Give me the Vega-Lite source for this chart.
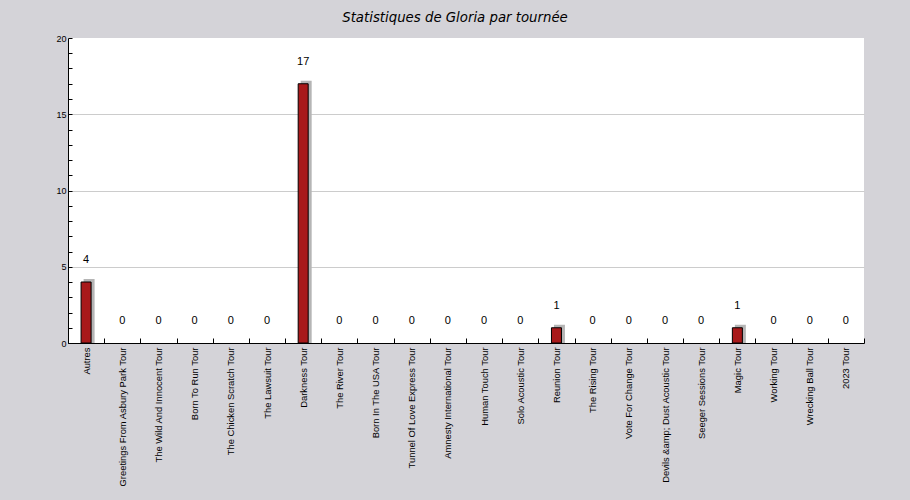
{
  "$schema": "https://vega.github.io/schema/vega-lite/v6.json",
  "autosize": "none",
  "width": 796,
  "height": 305,
  "padding": {"left": 68, "top": 38, "right": 46, "bottom": 157},
  "background": "#d4d3d8",
  "title": {
    "text": "Statistiques de Gloria par tournée",
    "font": "DejaVu Sans",
    "fontSize": 13.3,
    "fontStyle": "italic",
    "fontWeight": "normal",
    "color": "#000000",
    "anchor": "middle",
    "baseline": "bottom",
    "offset": -4,
    "dx": -11
  },
  "config": {
    "view": {"fill": "#ffffff", "stroke": null},
    "axis": {
      "domainColor": "#000000",
      "tickColor": "#000000",
      "labelColor": "#000000",
      "labelFont": "Liberation Sans",
      "labelFontSize": 9
    }
  },
  "data": {
    "values": [
      {"tour": "Autres", "count": 4},
      {"tour": "Greetings From Asbury Park Tour", "count": 0},
      {"tour": "The Wild And Innocent Tour", "count": 0},
      {"tour": "Born To Run Tour", "count": 0},
      {"tour": "The Chicken Scratch Tour", "count": 0},
      {"tour": "The Lawsuit Tour", "count": 0},
      {"tour": "Darkness Tour", "count": 17},
      {"tour": "The River Tour", "count": 0},
      {"tour": "Born In The USA Tour", "count": 0},
      {"tour": "Tunnel Of Love Express Tour", "count": 0},
      {"tour": "Amnesty International Tour", "count": 0},
      {"tour": "Human Touch Tour", "count": 0},
      {"tour": "Solo Acoustic Tour", "count": 0},
      {"tour": "Reunion Tour", "count": 1},
      {"tour": "The Rising Tour", "count": 0},
      {"tour": "Vote For Change Tour", "count": 0},
      {"tour": "Devils &amp; Dust Acoustic Tour", "count": 0},
      {"tour": "Seeger Sessions Tour", "count": 0},
      {"tour": "Magic Tour", "count": 1},
      {"tour": "Working Tour", "count": 0},
      {"tour": "Wrecking Ball Tour", "count": 0},
      {"tour": "2023 Tour", "count": 0}
    ]
  },
  "encoding": {
    "x": {
      "field": "tour",
      "type": "nominal",
      "scale": {
        "domain": ["Autres", "Greetings From Asbury Park Tour", "The Wild And Innocent Tour", "Born To Run Tour", "The Chicken Scratch Tour", "The Lawsuit Tour", "Darkness Tour", "The River Tour", "Born In The USA Tour", "Tunnel Of Love Express Tour", "Amnesty International Tour", "Human Touch Tour", "Solo Acoustic Tour", "Reunion Tour", "The Rising Tour", "Vote For Change Tour", "Devils &amp; Dust Acoustic Tour", "Seeger Sessions Tour", "Magic Tour", "Working Tour", "Wrecking Ball Tour", "2023 Tour"],
        "paddingInner": 0,
        "paddingOuter": 0
      },
      "axis": {
        "title": null,
        "labelAngle": -90,
        "labelFontSize": 9.4,
        "tickBand": "extent",
        "tickSize": -5,
        "labelPadding": 9,
        "domainWidth": 1
      }
    },
    "y": {
      "field": "count",
      "type": "quantitative",
      "scale": {"domain": [0, 20], "nice": false},
      "axis": {
        "title": null,
        "values": [0,1,2,3,4,5,6,7,8,9,10,11,12,13,14,15,16,17,18,19,20],
        "labelExpr": "datum.value % 5 === 0 ? datum.label : ''",
        "tickSize": -4,
        "labelPadding": 6,
        "grid": true,
        "gridColor": "#cccccc",
        "gridOpacity": {"condition": {"test": "datum.value % 5 === 0 && datum.value > 0 && datum.value < 20", "value": 1}, "value": 0}
      }
    }
  },
  "layer": [
    {
      "transform": [{"filter": "datum.count > 0"}],
      "mark": {"type": "bar", "color": "#b5b5b5", "size": 11, "xOffset": 3, "yOffset": -3},
      "encoding": {"y2": {"datum": 0}}
    },
    {
      "transform": [{"filter": "datum.count > 0"}],
      "mark": {"type": "bar", "fill": "#a8191a", "stroke": "#000000", "strokeWidth": 1, "size": 10},
      "encoding": {"y2": {"datum": 0}}
    },
    {
      "mark": {"type": "text", "font": "Liberation Sans", "fontSize": 11, "baseline": "middle", "dy": -22, "fill": "#000000"},
      "encoding": {"text": {"field": "count", "type": "quantitative"}}
    }
  ]
}
